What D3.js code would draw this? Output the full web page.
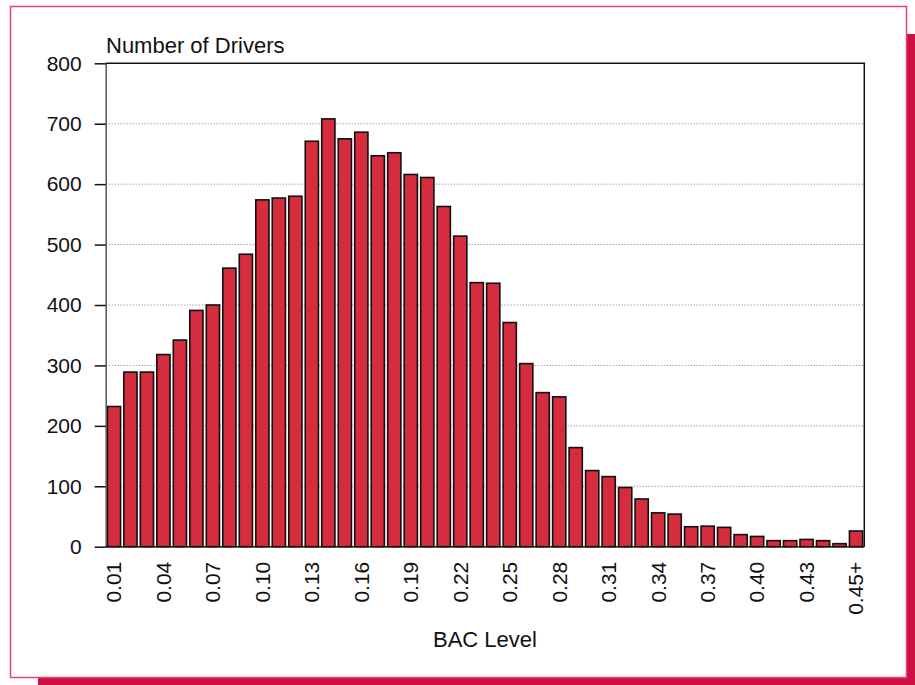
<!DOCTYPE html>
<html>
<head>
<meta charset="utf-8">
<script src="https://cdn.jsdelivr.net/npm/d3@7"></script>
<style>
  body { margin: 0; background: #fff; }
  svg { display: block; font-family: Arial, "Liberation Sans", sans-serif; }
</style>
</head>
<body>
<div id="chart"></div>
<script>
// Content
const bacLevels = ["0.01","0.02","0.03","0.04","0.05","0.06","0.07","0.08","0.09","0.10",
  "0.11","0.12","0.13","0.14","0.15","0.16","0.17","0.18","0.19","0.20",
  "0.21","0.22","0.23","0.24","0.25","0.26","0.27","0.28","0.29","0.30",
  "0.31","0.32","0.33","0.34","0.35","0.36","0.37","0.38","0.39","0.40",
  "0.41","0.42","0.43","0.44","0.45","0.45+"];
const drivers = [232, 289, 289, 318, 342, 391, 400, 461, 484, 574,
  577, 580, 671, 708, 675, 686, 647, 652, 616, 611,
  563, 514, 437, 436, 371, 303, 255, 248, 164, 126,
  116, 98, 79, 56, 54, 33, 34, 32, 20, 17,
  10, 10, 12, 10, 5, 26];
const shownTicks = ["0.01","0.04","0.07","0.10","0.13","0.16","0.19","0.22","0.25",
  "0.28","0.31","0.34","0.37","0.40","0.43","0.45+"];
const yTicks = [0, 100, 200, 300, 400, 500, 600, 700, 800];
const yTitle = "Number of Drivers";
const xTitle = "BAC Level";

// Sizing
const svgWidth = 915, svgHeight = 685;
const plotLeft = 105.7, plotRight = 864.3, plotTop = 63.3, plotBottom = 546.7;

// Colouring
const barColor = "#d52d3e";
const frameColor = "#e8436a";
const shadowColor = "#cc1042";
const tickFont = 21, titleFont = 22;

var svg = d3.select("#chart")
  .append("svg")
  .attr("width", svgWidth)
  .attr("height", svgHeight);

/** Frame with shadow */
svg.append("rect")
  .attr("x", 38).attr("y", 34)
  .attr("width", 900).attr("height", 700)
  .attr("fill", shadowColor);
svg.append("rect")
  .attr("x", 10.5).attr("y", 6.5)
  .attr("width", 896).attr("height", 671)
  .attr("fill", "#fff")
  .attr("stroke", frameColor)
  .attr("stroke-width", 1.5);

/** Scales */
var x = d3.scaleBand()
  .domain(bacLevels)
  .range([plotLeft, plotRight])
  .paddingInner(0.2)
  .paddingOuter(0.1);

var y = d3.scaleLinear()
  .domain([0, 800])
  .range([plotBottom, plotTop]);

// gridlines
svg.append("g")
  .selectAll("line")
  .data(yTicks.filter(d => d > 0 && d < 800))
  .enter().append("line")
  .attr("x1", plotLeft).attr("x2", plotRight)
  .attr("y1", d => y(d)).attr("y2", d => y(d))
  .attr("stroke", "#777")
  .attr("stroke-width", 1)
  .attr("stroke-dasharray", "1,2");

// top and right border of plot
svg.append("path")
  .attr("d", `M${plotLeft},${plotTop}H${plotRight}V${plotBottom}`)
  .attr("fill", "none")
  .attr("stroke", "#111")
  .attr("stroke-width", 1.5);

/** Bars */
svg.append("g")
  .selectAll("rect")
  .data(drivers)
  .enter().append("rect")
  .attr("x", (d, i) => x(bacLevels[i]))
  .attr("y", d => y(d))
  .attr("width", x.bandwidth())
  .attr("height", d => plotBottom - y(d))
  .attr("fill", barColor)
  .attr("stroke", "#111")
  .attr("stroke-width", 1.6);

/** Y-Axis */
var yAxis = svg.append("g")
  .attr("transform", "translate(" + plotLeft + ",0)")
  .call(d3.axisLeft(y).tickValues(yTicks).tickSize(11).tickPadding(13).tickSizeOuter(0));
yAxis.select(".domain").attr("stroke", "#555").attr("stroke-width", 1.5);
yAxis.selectAll("line").attr("stroke", "#111").attr("stroke-width", 1.5);
yAxis.selectAll("text")
  .attr("fill", "#111")
  .style("font-size", tickFont + "px")
  .style("font-family", "Arial, 'Liberation Sans', sans-serif");

// bottom line
svg.append("line")
  .attr("x1", plotLeft).attr("x2", plotRight)
  .attr("y1", plotBottom).attr("y2", plotBottom)
  .attr("stroke", "#111").attr("stroke-width", 1.5);

/** X-Axis labels */
svg.append("g")
  .selectAll("text")
  .data(shownTicks)
  .enter().append("text")
  .attr("transform", d => "translate(" + (x(d) + x.bandwidth() / 2) + "," + (plotBottom + 15) + ") rotate(-90)")
  .attr("text-anchor", "end")
  .attr("dy", "0.35em")
  .attr("fill", "#111")
  .style("font-size", tickFont + "px")
  .text(d => d);

// titles
svg.append("text")
  .attr("x", 106)
  .attr("y", 53)
  .attr("fill", "#111")
  .style("font-size", titleFont + "px")
  .text(yTitle);

svg.append("text")
  .attr("x", (plotLeft + plotRight) / 2)
  .attr("y", 646.5)
  .attr("text-anchor", "middle")
  .attr("fill", "#111")
  .style("font-size", titleFont + "px")
  .text(xTitle);
</script>
</body>
</html>
